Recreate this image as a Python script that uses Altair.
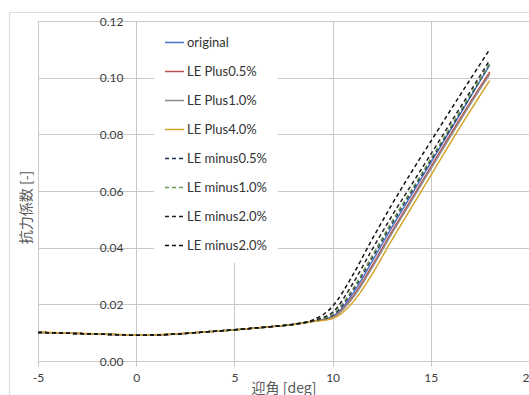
import altair as alt
import pandas as pd

angles = [-5, -4, -3, -2, -1, 0, 1, 2, 3, 4, 5, 6, 7, 8, 9, 10, 11, 12, 13, 14, 15, 16, 17, 18]

original    = [0.0101, 0.0099, 0.0097, 0.0095, 0.0093, 0.0091, 0.0092, 0.0095, 0.0100, 0.0105, 0.0110, 0.0116, 0.0122, 0.0129, 0.0141, 0.0158, 0.0235, 0.0350, 0.0470, 0.0585, 0.0700, 0.0815, 0.0930, 0.1045]
le_plus05   = [0.0101, 0.0099, 0.0097, 0.0095, 0.0093, 0.0091, 0.0092, 0.0095, 0.0100, 0.0105, 0.0110, 0.0116, 0.0122, 0.0129, 0.0140, 0.0155, 0.0225, 0.0335, 0.0455, 0.0570, 0.0685, 0.0800, 0.0912, 0.1020]
le_plus10   = [0.0101, 0.0099, 0.0097, 0.0095, 0.0093, 0.0091, 0.0092, 0.0095, 0.0100, 0.0105, 0.0110, 0.0116, 0.0122, 0.0129, 0.0140, 0.0154, 0.0220, 0.0328, 0.0448, 0.0563, 0.0678, 0.0792, 0.0905, 0.1012]
le_plus40   = [0.0102, 0.0100, 0.0098, 0.0096, 0.0094, 0.0092, 0.0093, 0.0096, 0.0100, 0.0105, 0.0110, 0.0116, 0.0122, 0.0129, 0.0139, 0.0150, 0.0205, 0.0305, 0.0425, 0.0540, 0.0655, 0.0770, 0.0882, 0.0990]
le_minus05  = [0.0101, 0.0099, 0.0097, 0.0095, 0.0093, 0.0091, 0.0092, 0.0095, 0.0100, 0.0105, 0.0110, 0.0116, 0.0122, 0.0129, 0.0141, 0.0162, 0.0245, 0.0362, 0.0482, 0.0595, 0.0708, 0.0820, 0.0933, 0.1048]
le_minus10  = [0.0101, 0.0099, 0.0097, 0.0095, 0.0093, 0.0091, 0.0092, 0.0095, 0.0100, 0.0105, 0.0110, 0.0116, 0.0122, 0.0129, 0.0142, 0.0165, 0.0252, 0.0370, 0.0490, 0.0602, 0.0714, 0.0826, 0.0938, 0.1050]
le_minus20a = [0.0101, 0.0099, 0.0097, 0.0095, 0.0093, 0.0091, 0.0092, 0.0095, 0.0100, 0.0105, 0.0110, 0.0116, 0.0122, 0.0129, 0.0143, 0.0172, 0.0270, 0.0392, 0.0510, 0.0620, 0.0730, 0.0840, 0.0950, 0.1062]
le_minus20b = [0.0101, 0.0099, 0.0097, 0.0095, 0.0093, 0.0091, 0.0092, 0.0095, 0.0100, 0.0105, 0.0110, 0.0116, 0.0122, 0.0130, 0.0145, 0.0193, 0.0300, 0.0428, 0.0550, 0.0665, 0.0775, 0.0885, 0.0993, 0.1100]

series_names = ["original", "LE Plus0.5%", "LE Plus1.0%", "LE Plus4.0%",
                "LE minus0.5%", "LE minus1.0%", "LE minus2.0%", "LE minus2.0%#2"]
series_values = [original, le_plus05, le_plus10, le_plus40,
                 le_minus05, le_minus10, le_minus20a, le_minus20b]
colors = ["#4a76c0", "#c0504d", "#8c8c8c", "#d4a52b",
          "#1f2f55", "#6f9a55", "#222222", "#111111"]
dashes = [[1, 0], [1, 0], [1, 0], [1, 0], [4, 3], [4, 3], [4, 3], [4, 3]]

x_ticks = [-5, 0, 5, 10, 15, 20]
y_ticks = [0.0, 0.02, 0.04, 0.06, 0.08, 0.10, 0.12]

rows = []
for name, vals in zip(series_names, series_values):
    for a, v in zip(angles, vals):
        rows.append({"angle": a, "cd": v, "series": name})
df = pd.DataFrame(rows)

GRID = "#c8c8c8"

lines = alt.Chart(df).mark_line(strokeWidth=1.5, interpolate="monotone").encode(
    x=alt.X("angle:Q",
            scale=alt.Scale(domain=[-5, 20], nice=False, zero=False),
            axis=alt.Axis(values=x_ticks, tickSize=5, labelPadding=6,
                          labelExpr="'' + datum.value",
                          labelFlush=False, labelOverlap=False,
                          title="迎角 [deg]", titleY=27, titleBaseline="middle")),
    y=alt.Y("cd:Q",
            scale=alt.Scale(domain=[0, 0.12], nice=False),
            axis=alt.Axis(values=y_ticks, format=".2f", offset=-98, ticks=False,
                          labelPadding=13, labelFlush=False, labelOverlap=False,
                          title="抗力係数 [-]", titleX=-110, titleY=186,
                          titleAngle=270, titleBaseline="middle", titleAlign="center")),
    color=alt.Color("series:N",
                    scale=alt.Scale(domain=series_names, range=colors),
                    legend=alt.Legend(orient="none", legendX=116, legendY=1,
                                      title=None, fillColor="white", padding=10,
                                      symbolType="stroke", symbolSize=361,
                                      symbolStrokeWidth=1.5, rowPadding=11,
                                      labelOffset=2,
                                      labelExpr="replace(datum.label, '#2', '')")),
    strokeDash=alt.StrokeDash("series:N",
                              scale=alt.Scale(domain=series_names, range=dashes)),
)

border_v = alt.Chart(alt.Data(values=[{"k": 1}])).mark_rule(
    color="#dcdcdc", strokeWidth=1.2
).encode(x=alt.value(-28.5), y=alt.value(-8.5), y2=alt.value(380))

border_h = alt.Chart(alt.Data(values=[{"k": 1}])).mark_rule(
    color="#dcdcdc", strokeWidth=1.2
).encode(x=alt.value(-28.5), x2=alt.value(500), y=alt.value(-8.5))

chart = alt.layer(border_v, border_h, lines).properties(
    width=491, height=340,
    padding={"left": 38, "top": 21, "right": 0, "bottom": 34},
    autosize="none",
    background="white",
).configure_view(
    strokeWidth=0
).configure_axis(
    gridColor=GRID, gridWidth=1, domainColor=GRID, tickColor=GRID,
    labelFont="Lato", labelFontSize=12, labelColor="#404040",
    titleFont="Noto Sans CJK JP", titleFontSize=14, titleColor="#595959",
    titleFontWeight="normal",
).configure_legend(
    labelFont="Lato", labelFontSize=13, labelColor="#333333",
)

chart.save("out.html", embed_options={"renderer": "svg", "actions": False})
